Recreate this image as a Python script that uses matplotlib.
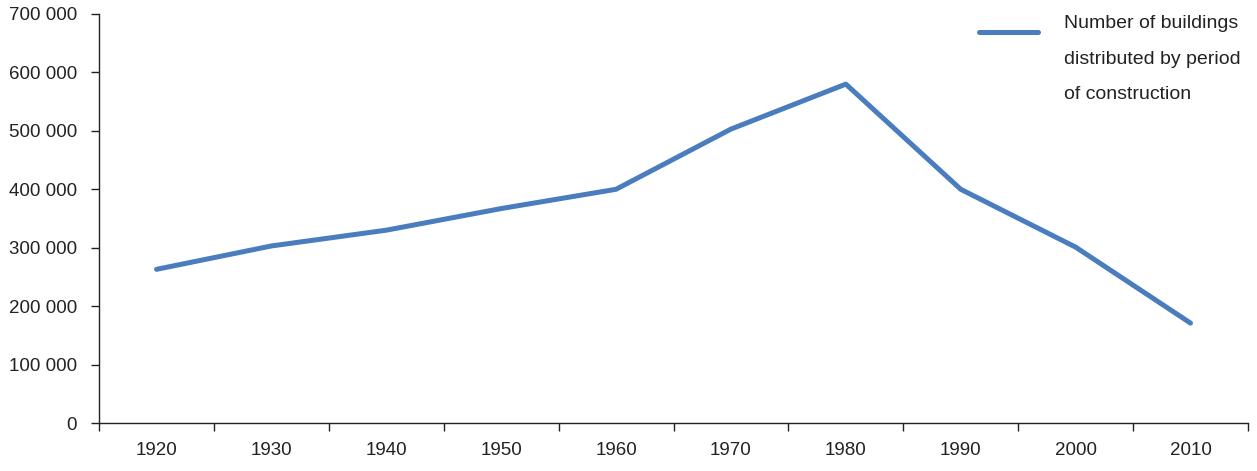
import numpy as np
import matplotlib.pyplot as plt
from matplotlib.ticker import FuncFormatter, FixedLocator
from matplotlib.legend_handler import HandlerLine2D

# Number of buildings by period of construction
periods = ['1920', '1930', '1940', '1950', '1960', '1970', '1980', '1990', '2000', '2010']
buildings = [263000, 303000, 330000, 367000, 400000, 503000, 580000, 400000, 301000, 171000]
label = 'Number of buildings\ndistributed by period\nof construction'

plt.rcParams['font.family'] = ['Liberation Sans', 'DejaVu Sans']


class TopLineHandler(HandlerLine2D):
    # put the legend line next to the first text row instead of the middle
    def create_artists(self, legend, orig_handle, xdescent, ydescent,
                       width, height, fontsize, trans):
        arts = super().create_artists(legend, orig_handle, xdescent, ydescent,
                                      width, height, fontsize, trans)
        for a in arts:
            a.set_ydata(np.asarray(a.get_ydata()) + 19.5)
        return arts


fig = plt.figure(figsize=(12.57, 4.71), dpi=100)
ax = fig.add_axes([0.0788, 0.1019, 0.914, 0.8684])

x = np.arange(len(periods))
line, = ax.plot(x, buildings, color='#4a7dbd', lw=3.6, solid_capstyle='round',
                solid_joinstyle='round', label=label)

ax.set_xlim(-0.5, len(periods) - 0.5)
ax.set_ylim(0, 700000)
ax.set_yticks(np.arange(0, 700001, 100000))
ax.yaxis.set_major_formatter(FuncFormatter(lambda v, p: f'{int(v):,}'.replace(',', ' ')))

ax.set_xticks(x)
ax.set_xticklabels(periods)
ax.xaxis.set_minor_locator(FixedLocator(np.arange(-0.5, len(periods), 1.0)))
ax.tick_params(axis='x', which='major', length=0, pad=14)
ax.tick_params(axis='x', which='minor', length=6, width=1, color='#222222', direction='out')
ax.tick_params(axis='y', length=6, width=1, color='#222222', pad=10)
ax.tick_params(labelsize=13.5, labelcolor='#222222')

for s in ['top', 'right']:
    ax.spines[s].set_visible(False)
for s in ['left', 'bottom']:
    ax.spines[s].set_color('#222222')
    ax.spines[s].set_linewidth(1)

leg = ax.legend(loc='upper left', bbox_to_anchor=(0.7788, 0.968),
                bbox_transform=fig.transFigure, frameon=False, fontsize=14,
                handlelength=3.05, handletextpad=1.3, borderpad=0, borderaxespad=0,
                handler_map={line: TopLineHandler()})
for t in leg.get_texts():
    t.set_linespacing(2.42)
    t.set_color('#222222')

fig.savefig('out.png', dpi=100)
